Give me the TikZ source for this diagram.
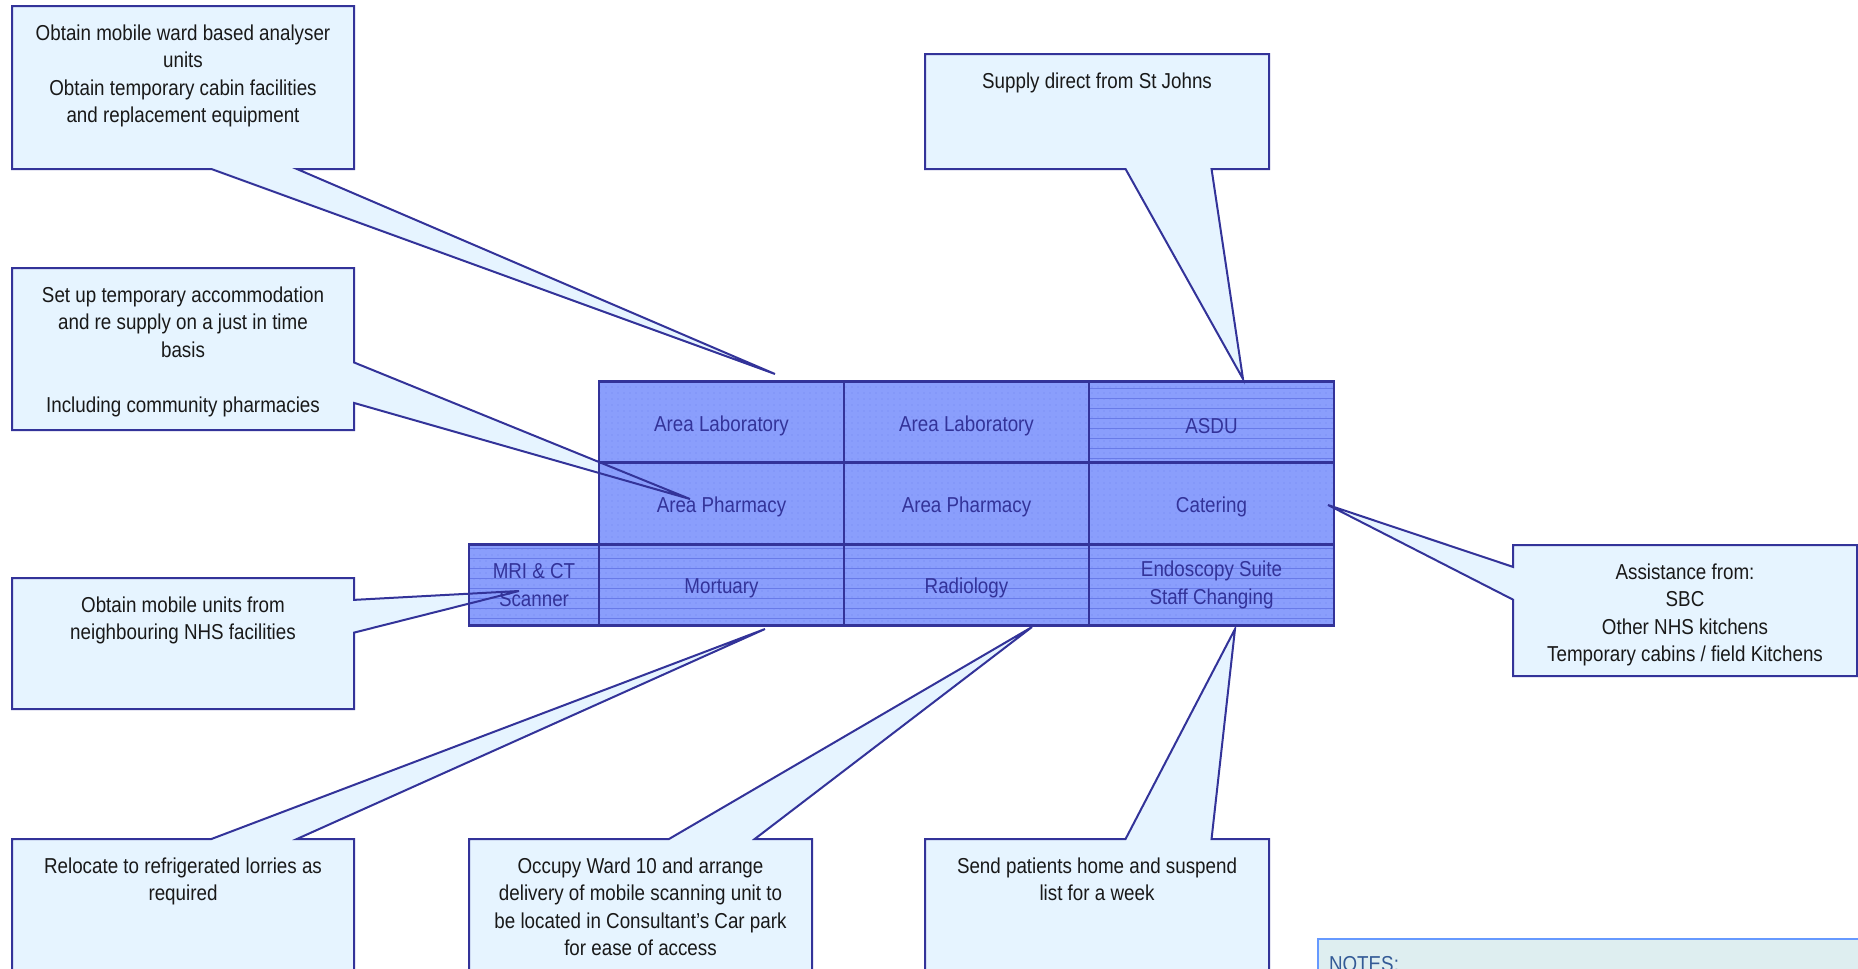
\documentclass[tikz,border=0pt]{standalone}
\usepackage{fontspec}
\setmainfont{Liberation Sans}[FakeStretch=0.87]
\usetikzlibrary{calc,positioning,patterns.meta}

\definecolor{wardline}{RGB}{51,51,153}
\definecolor{wardfill}{RGB}{138,158,252}
\definecolor{wardhatch}{RGB}{104,122,232}
\definecolor{warddots}{RGB}{116,136,240}
\definecolor{notefill}{RGB}{230,244,255}
\definecolor{notesfill}{RGB}{222,238,240}
\definecolor{notesline}{RGB}{102,153,255}
\definecolor{notestext}{RGB}{51,90,150}

\begin{document}
\begin{tikzpicture}[x=0.5pt, y=-0.5pt,
    % Styles
    notebox/.style={inner sep=0pt, outer sep=0pt, minimum width=171pt},
    notetext/.style={text=black!90, align=center, inner sep=0pt, font=\fontsize{10.8}{13.8}\selectfont},
    callout-fill/.style={fill=notefill},
    callout-line/.style={draw=wardline, line width=1pt, line join=miter},
    cell/.style={draw=wardline, line width=1.3pt, preaction={fill=wardfill}, pattern={Dots[distance=3pt, radius=0.3pt]}, pattern color=warddots,
        minimum width=122.5pt, minimum height=40.75pt, inner sep=0pt, outer sep=0pt, text=wardline, align=center,
        font=\fontsize{10.8}{13.9}\selectfont, execute at begin node={\rule{0pt}{11pt}}},
    twoline/.style={execute at begin node={\rule{0pt}{13.8pt}}},
    lined/.style={preaction={pattern={Dots[distance=3pt, radius=0.3pt]}, pattern color=warddots},
        pattern={Lines[angle=0, distance=5pt, line width=0.5pt]}, pattern color=wardhatch},
]
\useasboundingbox (0,0) rectangle (1858,969);
\clip (0,0) rectangle (1858,969);

% Callout boxes and the points they aim at
\node[notebox, minimum height=81.5pt] (labbox) at (183,87.5) {};
\coordinate (labtip) at (775,374);
\path[save path=\labpath] (labbox.north west) -- (labbox.north east) -- (labbox.south east)
    -- ($(labbox.south west)!0.833!(labbox.south east)$) -- (labtip)
    -- ($(labbox.south west)!0.583!(labbox.south east)$) -- (labbox.south west) -- cycle;

\node[notebox, minimum width=172pt, minimum height=57.5pt] (supplybox) at (1097,111.5) {};
\coordinate (supplytip) at (1243,379);
\path[save path=\supplypath] (supplybox.north west) -- (supplybox.north east) -- (supplybox.south east)
    -- ($(supplybox.south west)!0.833!(supplybox.south east)$) -- (supplytip)
    -- ($(supplybox.south west)!0.583!(supplybox.south east)$) -- (supplybox.south west) -- cycle;

\node[notebox, minimum height=81pt] (pharmbox) at (183,349) {};
\coordinate (pharmtip) at (690,499);
\path[save path=\pharmpath] (pharmbox.north west) -- (pharmbox.north east)
    -- ($(pharmbox.north east)!0.583!(pharmbox.south east)$) -- (pharmtip)
    -- ($(pharmbox.north east)!0.833!(pharmbox.south east)$) -- (pharmbox.south east)
    -- (pharmbox.south west) -- cycle;

\node[notebox, minimum height=65.5pt] (mribox) at (183,643.5) {};
\coordinate (mritip) at (519,591);
\path[save path=\mripath] (mribox.north west) -- (mribox.north east)
    -- ($(mribox.north east)!0.167!(mribox.south east)$) -- (mritip)
    -- ($(mribox.north east)!0.417!(mribox.south east)$) -- (mribox.south east)
    -- (mribox.south west) -- cycle;

\node[notebox, minimum height=81pt] (mortbox) at (183,920) {};
\coordinate (morttip) at (765,629);
\path[save path=\mortpath] (mortbox.north west)
    -- ($(mortbox.north west)!0.583!(mortbox.north east)$) -- (morttip)
    -- ($(mortbox.north west)!0.833!(mortbox.north east)$) -- (mortbox.north east)
    -- (mortbox.south east) -- (mortbox.south west) -- cycle;

\node[notebox, minimum width=171.5pt, minimum height=81pt] (radbox) at (640.5,920) {};
\coordinate (radtip) at (1032,627);
\path[save path=\radpath] (radbox.north west)
    -- ($(radbox.north west)!0.583!(radbox.north east)$) -- (radtip)
    -- ($(radbox.north west)!0.833!(radbox.north east)$) -- (radbox.north east)
    -- (radbox.south east) -- (radbox.south west) -- cycle;

\node[notebox, minimum width=172pt, minimum height=81pt] (endobox) at (1097,920) {};
\coordinate (endotip) at (1235,629);
\path[save path=\endopath] (endobox.north west)
    -- ($(endobox.north west)!0.583!(endobox.north east)$) -- (endotip)
    -- ($(endobox.north west)!0.833!(endobox.north east)$) -- (endobox.north east)
    -- (endobox.south east) -- (endobox.south west) -- cycle;

\node[notebox, minimum width=172pt, minimum height=65.5pt] (caterbox) at (1685,610.5) {};
\coordinate (catertip) at (1328,505);
\path[save path=\caterpath] (caterbox.north west) -- (caterbox.north east)
    -- (caterbox.south east) -- (caterbox.south west)
    -- ($(caterbox.north west)!0.417!(caterbox.south west)$) -- (catertip)
    -- ($(caterbox.north west)!0.167!(caterbox.south west)$) -- cycle;

% Callout fills sit under the ward blocks
\foreach \p in {\labpath,\supplypath,\pharmpath,\mripath,\mortpath,\radpath,\endopath,\caterpath}
    \path[callout-fill, use path=\p];

% Ward blocks
\node[cell] (lab1) at (721.5,422.5) {Area Laboratory};
\node[cell] (lab2) at (966.5,422.5) {Area Laboratory};
\node[cell, lined] (asdu) at (1211.5,422.5) {ASDU};
\node[cell] (pharm1) at (721.5,503.5) {Area Pharmacy};
\node[cell] (pharm2) at (966.5,503.5) {Area Pharmacy};
\node[cell] (catering) at (1211.5,503.5) {Catering};
\node[cell, lined, twoline, minimum width=65pt] (mri) at (534,585) {MRI \& CT\\Scanner};
\node[cell, lined] (mortuary) at (721.5,585) {Mortuary};
\node[cell, lined] (radiology) at (966.5,585) {Radiology};
\node[cell, lined, twoline] (endoscopy) at (1211.5,585) {Endoscopy Suite\\Staff Changing};

% Callout outlines on top
\foreach \p in {\labpath,\supplypath,\pharmpath,\mripath,\mortpath,\radpath,\endopath,\caterpath}
    \path[callout-line, use path=\p];

% Callout texts
\node[notetext, below=9pt of labbox.north] (labtext) {Obtain mobile ward based analyser\\units\\Obtain temporary cabin facilities\\and replacement equipment};
\node[notetext, below=9pt of supplybox.north] (supplytext) {Supply direct from St Johns};
\node[notetext, below=9pt of pharmbox.north] (pharmtext) {Set up temporary accommodation\\and re supply on a just in time\\basis\\[13.8pt]Including community pharmacies};
\node[notetext, below=9pt of mribox.north] (mritext) {Obtain mobile units from\\neighbouring NHS facilities};
\node[notetext, below=9pt of mortbox.north] (morttext) {Relocate to refrigerated lorries as\\required};
\node[notetext, below=9pt of radbox.north] (radtext) {Occupy Ward 10 and arrange\\delivery of mobile scanning unit to\\be located in Consultant’s Car park\\for ease of access};
\node[notetext, below=9pt of endobox.north] (endotext) {Send patients home and suspend\\list for a week};
\node[notetext, below=9pt of caterbox.north] (catertext) {Assistance from:\\SBC\\Other NHS kitchens\\Temporary cabins / field Kitchens};

% Notes panel
\node[draw=notesline, fill=notesfill, line width=1pt, anchor=north west, text width=300pt, text depth=30pt,
      inner xsep=5.5pt, inner ysep=8.5pt, text=notestext, font=\fontsize{10.8}{13}\selectfont] (notes) at (1317,938) {NOTES:};

\end{tikzpicture}
\end{document}
